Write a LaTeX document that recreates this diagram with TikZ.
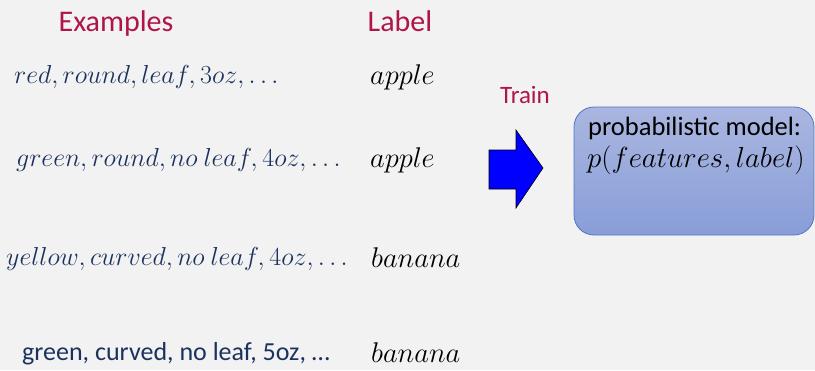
\documentclass[tikz,border=0pt]{standalone}
\usepackage{fix-cm}
\usepackage{fontspec}
\setmainfont{Carlito}
\usetikzlibrary{positioning}
\definecolor{crim}{RGB}{176,20,72}
\definecolor{navy}{RGB}{28,50,94}
\definecolor{bg}{RGB}{242,242,242}
\definecolor{boxtop}{RGB}{170,182,224}
\definecolor{boxbot}{RGB}{136,158,216}
\definecolor{boxline}{RGB}{79,118,196}

\begin{document}
\begin{tikzpicture}[x=1pt,y=-1pt,
    head/.style={text=crim, inner sep=0pt, anchor=base},
    feat/.style={text=navy, inner sep=0pt, anchor=base west, font=\fontsize{26}{30}\selectfont},
    lab/.style={inner sep=0pt, anchor=base west, font=\fontsize{28.5}{32}\selectfont}]
%      \draw [help lines] (0,0) grid [step=50] (815,370);

      \fill [bg] (0,0) rectangle (815,370);
      \useasboundingbox (0,0) rectangle (815,370);

      % column heads
      \node [head, font=\fontsize{30}{36}\selectfont] (examples) at (116,31) {Examples};
      \node [head, font=\fontsize{30}{36}\selectfont] (label) at (400,31) {Label};

      % training rows
      \node [feat] (ex1) at (14,83) {$red, round, leaf, 3oz, \ldots$};
      \node [lab]  (lab1) at (370,84) {$apple$};

      \node [feat] (ex2) at (16,166) {$green, round, no\ leaf, 4oz, \ldots$};
      \node [lab]  (lab2) at (370,167) {$apple$};

      \node [feat] (ex3) at (6,265) {$yellow, curved, no\ leaf, 4oz, \ldots$};
      \node [lab]  (lab3) at (371,267) {$banana$};

      \node [feat, font=\fontsize{26}{30}\selectfont] (ex4) at (22,360) {green, curved, no leaf, 5oz, \ldots};
      \node [lab]  (lab4) at (371,362) {$banana$};

      % training step
      \node [head, font=\fontsize{25}{30}\selectfont] (train) at (525,103) {Train};
      \draw [fill=blue, line width=0.6pt]
        (489,150) -- (516,150) -- (516,130) -- (543,168) -- (516,208)
        -- (516,189) -- (489,189) -- cycle;

      % model box
      \node [draw=boxline, line width=0.8pt, rounded corners=20pt,
             top color=boxtop, bottom color=boxbot,
             minimum width=240pt, minimum height=128pt] (model) at (694,171) {};
      \node [inner sep=0pt, anchor=base west, font=\fontsize{26.5}{30}\selectfont]
        (modelname) at (588,135) {probabilistic model:};
      \node [lab, font=\fontsize{29}{32}\selectfont] (modelp) at (587,167) {$p(features, label)$};

\end{tikzpicture}
\end{document}
